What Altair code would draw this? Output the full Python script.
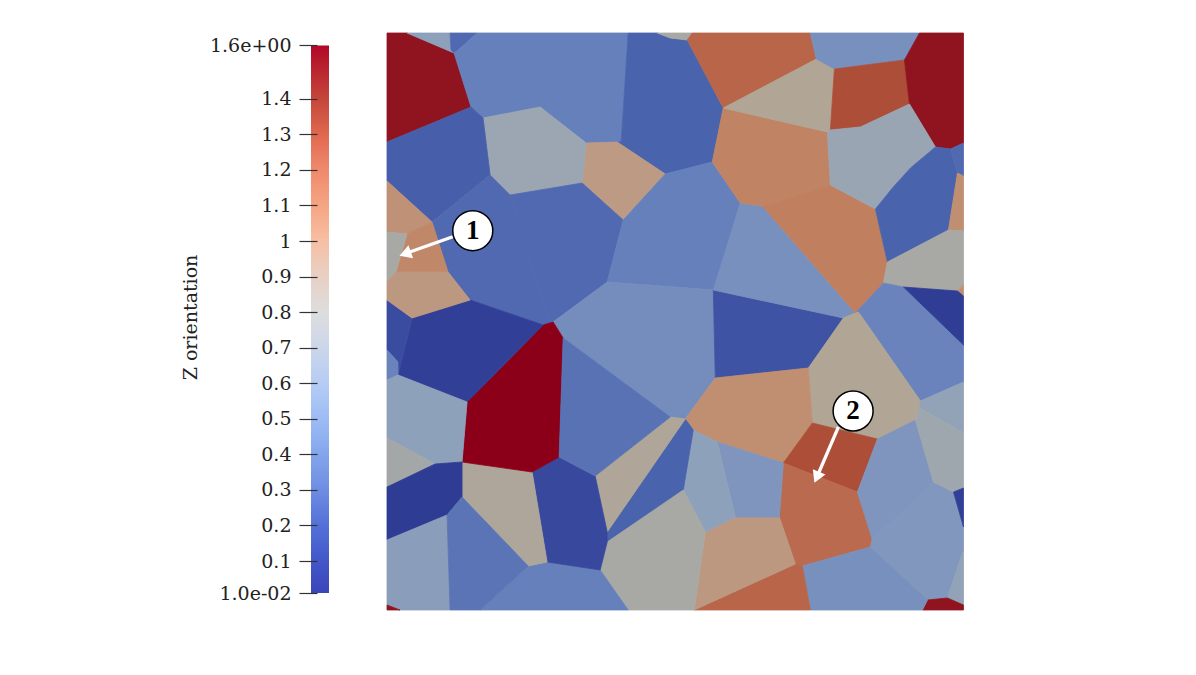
import altair as alt
import pandas as pd

# ---- grains: orientation value and outline vertices (image-space units of the map)
grain_z = [
    1.5, 0.5, 0.22, 0.3, 0.2, 0.75, 0.95, 0.65, 0.18, 0.22, 0.22, 0.3, 0.38, 0.13, 0.4,
    1.12, 1.15, 1.25, 0.85, 0.4, 1.35, 1.5, 0.63, 0.2, 0.22, 1.05, 0.75, 1.05, 0.32, 0.02,
    0.85, 1.05, 1.35, 1.23, 0.43, 0.44, 0.55, 1.5, 0.4, 1.25, 0.97, 0.43, 0.5, 0.2, 0.83,
    0.75, 0.3, 0.08, 0.82, 1.55, 0.25, 0.03, 0.1, 0.32, 0.5, 0.72, 0.01, 0.48, 0.26, 1.03,
    1.1, 0.75, 0.97, 0.55, 0.68, 0.03, 1.5,
]
grain_vertices = [
    [(387,33),(407,33),(454,53),(471,107),(387,142)],
    [(407,33),(450,33),(451,50),(454,53)],
    [(450,33),(477,33),(457,51),(454,53),(451,50)],
    [(477,33),(628,33),(621,142),(586,143),(540,107),(483,118),(471,107),(454,53),(457,51)],
    [(628,33),(657,33),(670,38),(687,40),(723,108),(712,162),(665,174),(617,142),(621,142)],
    [(657,33),(692,33),(687,40),(670,38)],
    [(586,143),(617,142),(665,174),(623,220),(582,183)],
    [(483,118),(540,107),(586,143),(582,183),(510,195),(490,175)],
    [(387,142),(471,107),(483,118),(490,175),(432,222),(387,181)],
    [(490,175),(510,195),(548,320),(553,322),(543,325),(470,300),(448,272),(432,222)],
    [(510,195),(582,183),(623,220),(607,282),(553,322),(548,320)],
    [(623,220),(665,174),(712,162),(740,203),(715,290),(607,282)],
    [(607,282),(713,290),(715,378),(685,419),(670,417),(563,338),(553,322)],
    [(713,290),(843,318),(808,368),(715,378)],
    [(740,203),(762,206),(855,313),(843,318),(713,290)],
    [(723,108),(827,132),(830,185),(762,206),(740,203),(712,162)],
    [(762,206),(830,185),(875,209),(887,262),(883,283),(855,313)],
    [(687,40),(692,33),(810,33),(816,59),(723,108)],
    [(723,108),(816,59),(834,69),(830,130),(827,132)],
    [(810,33),(919,33),(904,60),(834,69),(816,59)],
    [(834,69),(904,60),(909,104),(860,127),(830,130)],
    [(919,33),(963,33),(963,143),(950,149),(935,147),(909,104),(904,60)],
    [(827,132),(830,130),(860,127),(909,104),(935,147),(910,168),(892,188),(875,209),(830,185)],
    [(935,147),(950,149),(957,173),(948,230),(887,262),(875,209),(892,188),(910,168)],
    [(950,149),(963,143),(963,176),(957,173)],
    [(957,173),(963,176),(963,231),(948,230)],
    [(948,230),(963,231),(963,285),(957,291),(903,287),(883,283),(887,262)],
    [(963,285),(963,296),(957,291)],
    [(883,283),(903,287),(963,345),(963,382),(920,401),(858,312),(855,313)],
    [(903,287),(957,291),(963,296),(963,345)],
    [(855,313),(843,318),(808,368),(812,423),(877,439),(915,420),(919,408),(920,401),(858,312)],
    [(715,378),(808,368),(812,423),(783,463),(717,442),(693,430),(685,419)],
    [(812,423),(877,439),(857,492),(783,463)],
    [(783,463),(857,492),(872,538),(870,547),(802,566),(795,564),(779,517)],
    [(877,439),(915,420),(933,482),(872,540),(857,492)],
    [(933,482),(953,492),(963,527),(963,550),(947,598),(927,600),(870,547),(872,538)],
    [(963,550),(963,605),(947,598)],
    [(922,610),(927,600),(947,598),(963,605),(963,610)],
    [(802,566),(870,547),(927,600),(922,610),(810,610)],
    [(694,610),(795,564),(802,566),(810,610)],
    [(705,532),(735,517),(779,517),(795,564),(694,610)],
    [(717,442),(783,463),(779,517),(735,517)],
    [(685,419),(693,430),(717,442),(735,517),(705,532),(683,490)],
    [(685,419),(693,430),(683,490),(670,500),(607,542),(607,532)],
    [(595,476),(670,417),(685,419),(607,532)],
    [(607,542),(683,490),(705,532),(694,610),(628,610),(600,570)],
    [(528,566),(547,562),(600,570),(628,610),(480,610)],
    [(532,472),(559,457),(595,476),(607,532),(607,542),(600,570),(547,562)],
    [(462,462),(532,472),(547,562),(528,566),(462,497)],
    [(467,402),(543,325),(553,322),(563,338),(559,457),(532,472),(462,462)],
    [(563,338),(670,417),(595,476),(559,457)],
    [(412,318),(470,300),(543,325),(467,402),(398,375)],
    [(387,300),(412,318),(398,375),(398,362),(387,350)],
    [(387,350),(398,362),(398,375),(387,380)],
    [(387,380),(398,375),(467,402),(462,462),(435,464),(387,438)],
    [(387,438),(435,464),(387,487)],
    [(387,487),(435,464),(462,462),(462,497),(447,515),(387,540)],
    [(387,540),(447,515),(450,610),(400,610),(387,605)],
    [(447,515),(462,497),(528,566),(480,610),(450,610)],
    [(387,181),(432,222),(407,234),(387,232)],
    [(407,234),(432,222),(448,272),(396,272)],
    [(387,232),(407,234),(396,272),(387,282)],
    [(387,282),(396,272),(448,272),(470,300),(412,318),(387,300)],
    [(920,401),(963,382),(963,433),(919,408)],
    [(919,408),(963,433),(963,488),(953,492),(933,482),(915,420)],
    [(953,492),(963,488),(963,527)],
    [(387,605),(400,610),(387,610)],
]

# ---- colour ramp of the rendered map
map_z_stops = [0.01, 0.1, 0.2, 0.3, 0.4, 0.5, 0.65, 0.75, 0.85, 0.95, 1.05, 1.15, 1.25, 1.35, 1.5, 1.55]
map_colors = ["#2e3c93", "#3a4ca0", "#4a63ad", "#6680bb", "#7890be", "#8ea1bb", "#9ba6b2", "#a8a8a4",
              "#b1a596", "#bc9a84", "#c08f72", "#c08060", "#b8654a", "#ad4f38", "#8f1420", "#8b0018"]

# ---- colour bar
bar_z_stops = [0.01, 0.1, 0.2, 0.3, 0.4, 0.5, 0.6, 0.7, 0.8, 0.9, 1.0, 1.1, 1.2, 1.3, 1.4, 1.55]
bar_colors = ["#3a46b8", "#4257c8", "#5570d8", "#6e8de2", "#84a5ec", "#9dbcf5", "#b6ccf5", "#ccd6ea",
              "#dddddd", "#e8d0c4", "#f7bfa4", "#f5a582", "#ef8a6c", "#e0684f", "#c5463a", "#b00828"]
tick_values = [0.01, 0.1, 0.2, 0.3, 0.4, 0.5, 0.6, 0.7, 0.8, 0.9, 1.0, 1.1, 1.2, 1.3, 1.4, 1.55]
z_min, z_max = 0.01, 1.55

# ---- callouts
callout_labels = ["1", "2"]
callout_x = [472.7, 852.7]
callout_y = [230.7, 411.0]
arrow_start_x = [452.7, 838.0]
arrow_start_y = [236.7, 427.0]
arrow_head_x = [407.0, 817.2]
arrow_head_y = [253.1, 475.5]
arrow_angle = [250.6, 203.2]

SERIF = "DejaVu Serif"

rows = []
for gid, (z, verts) in enumerate(zip(grain_z, grain_vertices)):
    for i, (vx, vy) in enumerate(verts):
        rows.append({"grain": gid, "i": i, "x": vx, "y": vy, "z": z})
poly_df = pd.DataFrame(rows)

xs = alt.Scale(domain=[387, 963.5], nice=False, zero=False)
ys = alt.Scale(domain=[610, 33], nice=False, zero=False)
xe = lambda f: alt.X(f, type="quantitative", scale=xs, axis=None)
ye = lambda f: alt.Y(f, type="quantitative", scale=ys, axis=None)
color_scale = alt.Scale(domain=map_z_stops, range=map_colors, interpolate="rgb")

polys = alt.Chart(poly_df).mark_line(interpolate="linear-closed", filled=True, strokeWidth=0.8).encode(
    x=xe("x"), y=ye("y"),
    order=alt.Order("i:Q"),
    detail="grain:N",
    fill=alt.Fill("z:Q", scale=color_scale, legend=None),
    stroke=alt.Stroke("z:Q", scale=color_scale, legend=None),
)

call_df = pd.DataFrame({
    "label": callout_labels, "cx": callout_x, "cy": callout_y,
    "sx": arrow_start_x, "sy": arrow_start_y, "hx": arrow_head_x, "hy": arrow_head_y,
    "angle": arrow_angle,
})
shafts = alt.Chart(call_df).mark_rule(color="white", strokeWidth=3.2).encode(
    x=xe("sx"), y=ye("sy"), x2="hx", y2="hy")
heads = alt.Chart(call_df).mark_point(shape="triangle", filled=True, color="white", opacity=1, size=190).encode(
    x=xe("hx"), y=ye("hy"), angle=alt.Angle("angle:Q", scale=None))
circles = alt.Chart(call_df).mark_circle(color="white", opacity=1, size=1600, stroke="black", strokeWidth=1.5).encode(
    x=xe("cx"), y=ye("cy"))
numbers = alt.Chart(call_df).mark_text(font="Liberation Serif", fontWeight="bold", fontSize=27, color="black", baseline="middle").encode(
    x=xe("cx"), y=ye("cy"), text="label:N")

grain_map = alt.layer(polys, shafts, heads, circles, numbers).properties(width=577, height=577)

# colour bar panel
offsets = [(z - z_min) / (z_max - z_min) for z in bar_z_stops]
gradient = alt.LinearGradient(
    gradient="linear", x1=0, x2=0, y1=1, y2=0,
    stops=[alt.GradientStop(color=c, offset=o) for c, o in zip(bar_colors, offsets)],
)
bar_df = pd.DataFrame({"lo": [z_min], "hi": [z_max]})
label_expr = "datum.value > 1.5 ? '1.6e+00' : datum.value < 0.05 ? '1.0e-02' : format(datum.value, '~g')"
bar = alt.Chart(bar_df).mark_rect(fill=gradient).encode(
    x=alt.value(0), x2=alt.value(18),
    y=alt.Y("lo:Q", scale=alt.Scale(domain=[-0.0377, 1.585], nice=False, zero=False),
            axis=alt.Axis(
                values=tick_values, labelExpr=label_expr, title="Z orientation", offset=-6,
                zindex=1, domain=False, grid=False, tickSize=18, tickColor="#333333", tickWidth=1.2,
                labelPadding=8, labelFont=SERIF, labelFontSize=19, labelColor="#222222", labelFontWeight="normal",
                titleFont=SERIF, titleFontSize=19, titleFontWeight="normal", titleColor="#222222",
                titleAngle=270, titleX=-121, titleY=284, titleAlign="center", titleBaseline="alphabetic",
                labelOverlap=False, labelSeparation=0, labelBound=False,
            )),
    y2="hi:Q",
).properties(width=18, height=577)

chart = alt.hconcat(bar, grain_map, spacing=56).properties(
    padding={"left": 173, "top": 23, "right": 0, "bottom": 0},
    background="white",
).configure_view(stroke=None)

chart.save("out.html", embed_options={"renderer": "svg", "actions": False})
